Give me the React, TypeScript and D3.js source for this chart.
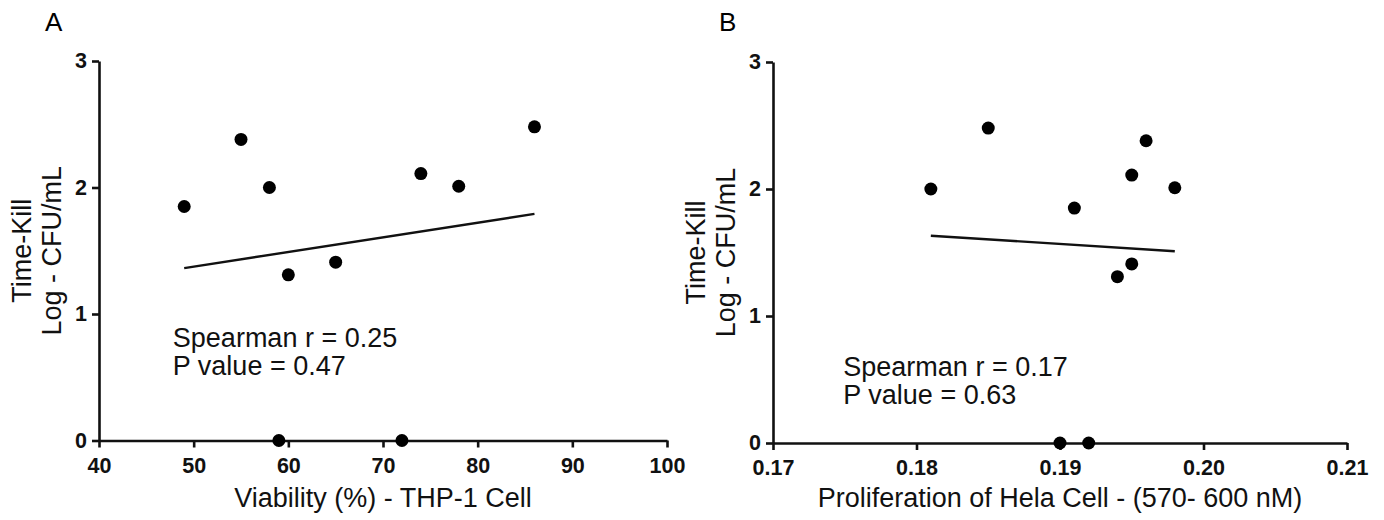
import React, { useEffect, useRef } from "react";
import * as d3 from "d3";

// Time-kill log CFU/mL for the ten isolates (same order in both panels)
const timeKill = [1.85, 2.38, 2.0, 1.31, 1.41, 2.11, 2.01, 2.48, 0, 0];
const viability = [49, 55, 58, 60, 65, 74, 78, 86, 59, 72];

const helaKill = [2.0, 2.48, 1.85, 1.31, 1.41, 2.11, 2.38, 2.01, 0, 0];
const helaProlif = [0.181, 0.185, 0.191, 0.194, 0.195, 0.195, 0.196, 0.198, 0.19, 0.192];

const xTicksA = [40, 50, 60, 70, 80, 90, 100];
const xTicksB = [0.17, 0.18, 0.19, 0.2, 0.21];
const yTicks = [0, 1, 2, 3];

interface PanelCfg {
  letter: string;
  xs: number[];
  ys: number[];
  xDomain: [number, number];
  xTicks: number[];
  xFmt: (d: number) => string;
  xTitle: string;
  stats: string[];
  statsAt: [number, number]; // in data units
  left: number;
  right: number;
  top: number;
  bottom: number;
}

const panels: PanelCfg[] = [
  {
    letter: "A",
    xs: viability,
    ys: timeKill,
    xDomain: [40, 100],
    xTicks: xTicksA,
    xFmt: d3.format("d"),
    xTitle: "Viability (%) - THP-1 Cell",
    stats: ["Spearman r = 0.25", "P value = 0.47"],
    statsAt: [47.8, 0.74],
    left: 99,
    right: 667,
    top: 61,
    bottom: 440.5,
  },
  {
    letter: "B",
    xs: helaProlif,
    ys: helaKill,
    xDomain: [0.17, 0.21],
    xTicks: xTicksB,
    xFmt: d3.format(".2f"),
    xTitle: "Proliferation of Hela Cell - (570- 600 nM)",
    stats: ["Spearman r = 0.17", "P value = 0.63"],
    statsAt: [0.1749, 0.53],
    left: 773,
    right: 1347,
    top: 62,
    bottom: 443,
  },
];

function drawPanel(root: d3.Selection<SVGSVGElement, unknown, null, undefined>, p: PanelCfg) {
  const g = root.append("g");
  const x = d3.scaleLinear().domain(p.xDomain).range([p.left, p.right]);
  const y = d3.scaleLinear().domain([0, 3]).range([p.bottom, p.top]);

  // panel letter
  g.append("text")
    .attr("x", p.left - 54)
    .attr("y", 31)
    .attr("font-size", 26)
    .attr("font-family", "Liberation Sans, Arial, sans-serif")
    .text(p.letter);

  // axes
  const xAxis = g
    .append("g")
    .attr("transform", `translate(0,${p.bottom})`)
    .call(d3.axisBottom(x).tickValues(p.xTicks).tickFormat(p.xFmt as any).tickSize(7).tickSizeOuter(0).tickPadding(10));
  const yAxis = g
    .append("g")
    .attr("transform", `translate(${p.left},0)`)
    .call(d3.axisLeft(y).tickValues(yTicks).tickFormat(d3.format("d")).tickSize(7).tickSizeOuter(0).tickPadding(5));

  [xAxis, yAxis].forEach((a) => {
    a.select(".domain").attr("stroke", "#111").attr("stroke-width", 2.6);
    a.selectAll(".tick line").attr("stroke", "#111").attr("stroke-width", 2.6);
    a.selectAll(".tick text")
      .attr("fill", "#111")
      .attr("font-size", 21.5)
      .attr("font-weight", "bold")
      .attr("font-family", "Liberation Sans, Arial, sans-serif");
  });

  // titles
  g.append("text")
    .attr("x", (p.left + p.right) / 2)
    .attr("y", 507)
    .attr("text-anchor", "middle")
    .attr("font-size", 27)
    .attr("font-family", "Liberation Sans, Arial, sans-serif")
    .attr("fill", "#111")
    .text(p.xTitle);

  const midY = (p.top + p.bottom) / 2;
  ["Time-Kill", "Log - CFU/mL"].forEach((t, i) => {
    g.append("text")
      .attr("transform", `translate(${p.left - 68 + i * 30},${midY}) rotate(-90)`)
      .attr("text-anchor", "middle")
      .attr("font-size", 27)
      .attr("font-family", "Liberation Sans, Arial, sans-serif")
      .attr("fill", "#111")
      .text(t);
  });

  // least-squares fit over the observed x range
  const mx = d3.mean(p.xs) as number;
  const my = d3.mean(p.ys) as number;
  const sxy = d3.sum(p.xs, (v, i) => (v - mx) * (p.ys[i] - my));
  const sxx = d3.sum(p.xs, (v) => (v - mx) * (v - mx));
  const slope = sxy / sxx;
  const ext = d3.extent(p.xs.filter((_, i) => p.ys[i] > 0)) as [number, number];
  const fit = ext.map((v) => [v, my + slope * (v - mx)] as [number, number]);
  g.append("path")
    .datum(fit)
    .attr("fill", "none")
    .attr("stroke", "#111")
    .attr("stroke-width", 2.4)
    .attr("d", d3.line<[number, number]>().x((d) => x(d[0])).y((d) => y(d[1])));

  // points
  g.selectAll("circle")
    .data(p.xs.map((v, i) => [v, p.ys[i]]))
    .enter()
    .append("circle")
    .attr("cx", (d) => x(d[0]))
    .attr("cy", (d) => y(d[1]))
    .attr("r", 6.5)
    .attr("fill", "#000");

  // stats annotation
  p.stats.forEach((s, i) => {
    g.append("text")
      .attr("x", x(p.statsAt[0]))
      .attr("y", y(p.statsAt[1]) + i * 28)
      .attr("font-size", 27)
      .attr("font-family", "Liberation Sans, Arial, sans-serif")
      .attr("fill", "#111")
      .text(s);
  });
}

export default function App() {
  const ref = useRef<SVGSVGElement>(null);

  useEffect(() => {
    if (!ref.current) return;
    const svg = d3.select(ref.current);
    svg.selectAll("*").remove();
    panels.forEach((p) => drawPanel(svg, p));
  }, []);

  return (
    <div style={{ position: "absolute", left: 0, top: 0, background: "#fff" }}>
      <svg ref={ref} width={1384} height={520} style={{ display: "block" }} />
    </div>
  );
}
